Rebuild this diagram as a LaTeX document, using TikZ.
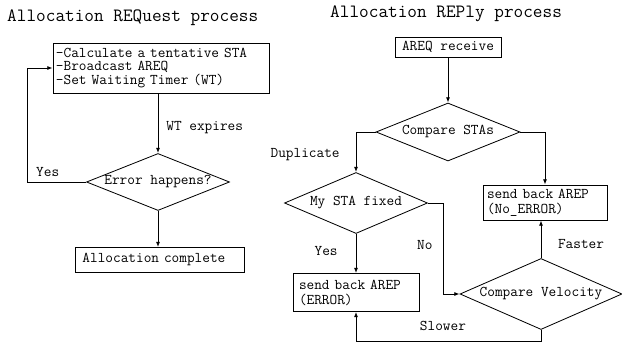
\documentclass[tikz,border=0pt]{standalone}
\usepackage{fontspec}
\usetikzlibrary{shapes.geometric}
\usetikzlibrary{arrows.meta}

\begin{document}
\begin{tikzpicture}[x=0.03cm, y=-0.03cm,
  every node/.style={font=\ttfamily\fontsize{12.7}{12.8}\selectfont},
  box/.style={draw, rectangle, align=left, inner ysep=0pt, line width=0.7pt},
  dec/.style={draw, diamond, aspect=2.5, inner sep=0pt, line width=0.7pt},
  arr/.style={-{Latex[length=4.5pt, width=3.4pt]}, line width=0.7pt},
  lbl/.style={inner sep=0pt},
  ttl/.style={anchor=base west, inner sep=0pt, font=\ttfamily\fontsize{16}{18}\selectfont}
]
\useasboundingbox (0,0) rectangle (622,343);

% Titles
\node[ttl] (reqtitle) at (7,22) {Allocation REQuest process};
\node[ttl] (reptitle) at (330,18) {Allocation REPly process};

% Request side
\node[box, inner xsep=0.09cm, text width=6.3cm, minimum height=1.5cm, font=\ttfamily\fontsize{12.7}{11.6}\selectfont] (calc) at (161,68)
  {-Calculate a tentative STA\\-Broadcast AREQ\\-Set Waiting Timer (WT)};
\node[dec, minimum width=4.29cm, minimum height=1.71cm] (err) at (158,182) {Error happens?};
\node[box, inner xsep=0.21cm, text width=4.65cm, minimum height=0.75cm] (done) at (160,260) {Allocation complete};

\draw[arr] (calc.south -| err.north) -- node[lbl, pos=0.57, right=0.24cm] {WT expires} (err.north);
\draw[arr] (err.west) -- node[lbl, pos=0.65, above=0.16cm] {Yes} ++(-59,0) |- (calc.west);
\draw[arr] (err.south) -- (err.south |- done.north);

% Reply side
\node[box, align=center, minimum width=3.18cm, minimum height=0.6cm] (areq) at (448,47) {AREQ receive};
\node[dec, minimum width=4.32cm, minimum height=1.74cm] (sta) at (448,132) {Compare STAs};
\node[dec, minimum width=4.29cm, minimum height=1.83cm] (mysta) at (356,203) {My STA fixed};
\node[box, inner xsep=0.12cm, text width=3.48cm, minimum height=1.05cm] (noerr) at (545,202.5)
  {send back AREP\\(No\_ERROR)};
\node[box, inner xsep=0.18cm, text width=3.42cm, minimum height=1.14cm] (errbox) at (356,292.5)
  {send back AREP\\(ERROR)};
\node[dec, minimum width=4.86cm, minimum height=2.13cm] (vel) at (541,294) {Compare Velocity};

\draw[arr] (areq.south -| sta.north) -- (sta.north);
\draw[arr] (sta.west) -| node[lbl, pos=0.78, left=0.48cm] {Duplicate} (mysta.north);
\draw[arr] (sta.east) -| (noerr.north);
\draw[arr] (mysta.south) -- node[lbl, pos=0.44, left=0.54cm] {Yes} (mysta.south |- errbox.north);
\draw[arr] (mysta.east) -- ++(15,0) |- node[lbl, pos=0.23, left=0.3cm] {No} (vel.west);
\draw[arr] (vel.north) -- node[lbl, pos=0.38, right=0.5cm] {Faster} (vel.north |- noerr.south);
\draw[arr] (vel.south) -- ++(0,11) -| node[lbl, pos=0.265, above=0.28cm] {Slower} (errbox.south);
\end{tikzpicture}
\end{document}
